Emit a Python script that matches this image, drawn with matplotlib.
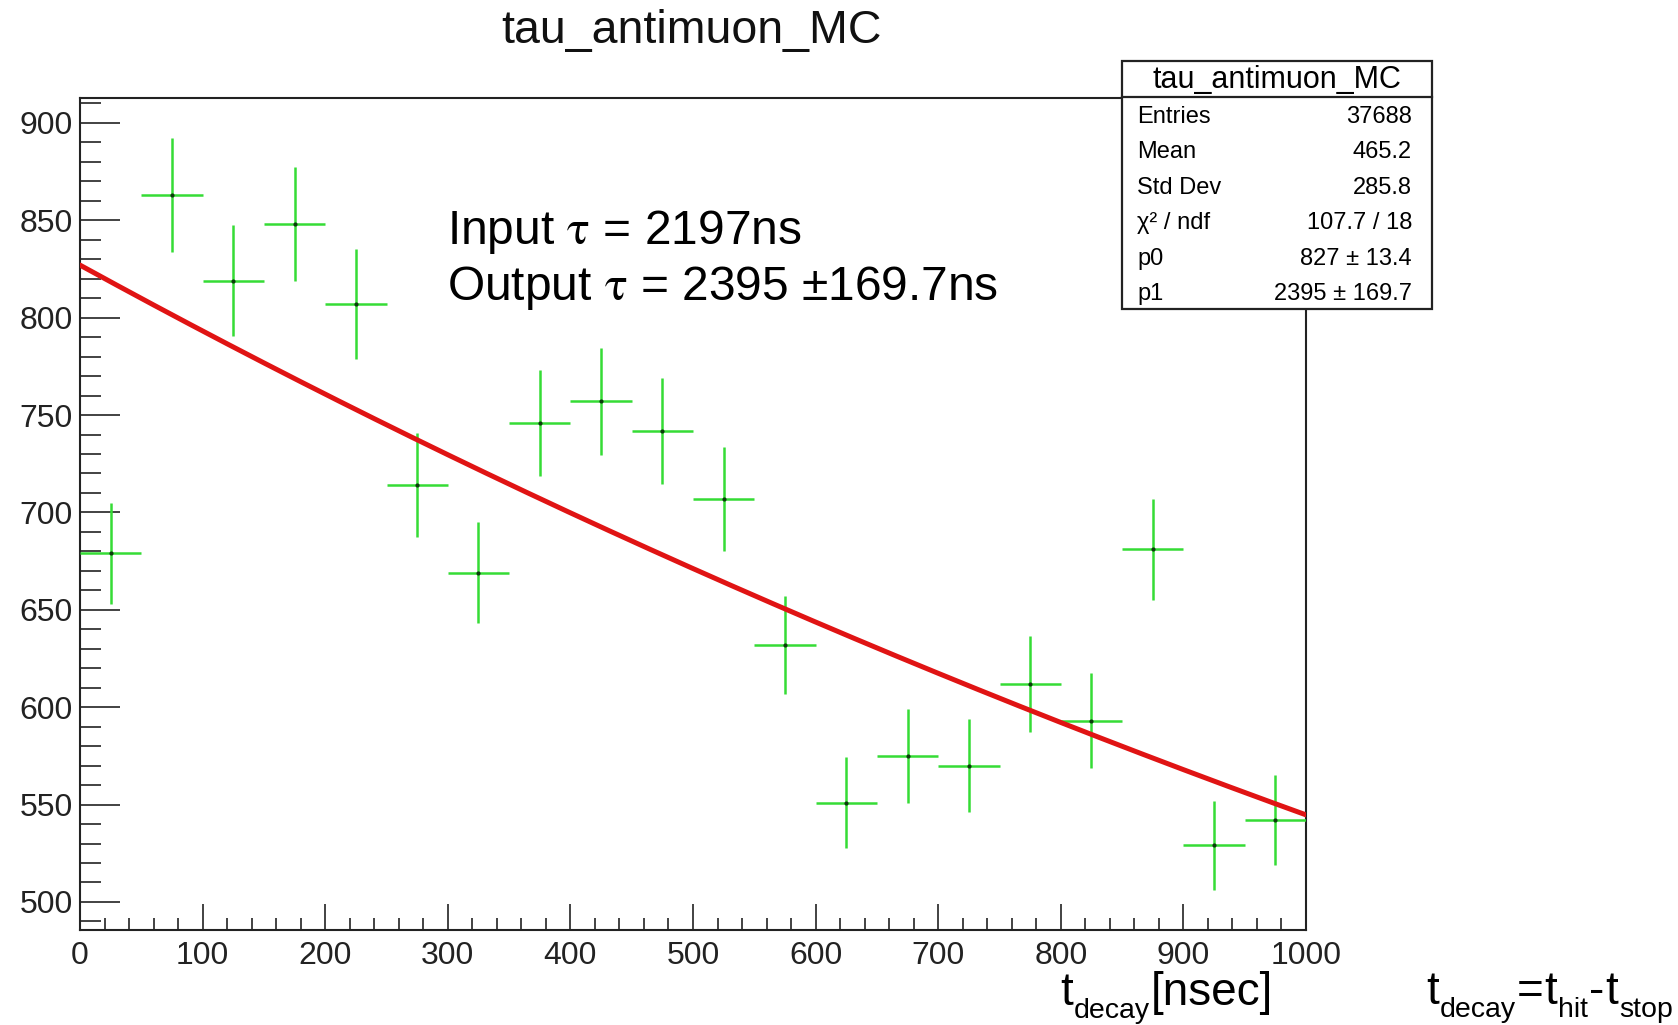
import numpy as np
import matplotlib.pyplot as plt
from matplotlib.patches import Rectangle
from matplotlib.lines import Line2D
from matplotlib.ticker import MultipleLocator

# histograma de t_decay (bins de 50 ns)
centros = [25, 75, 125, 175, 225, 275, 325, 375, 425, 475,
           525, 575, 625, 675, 725, 775, 825, 875, 925, 975]
cuentas = [679, 863, 819, 848, 807, 714, 669, 746, 757, 742,
           707, 632, 551, 575, 570, 612, 593, 681, 529, 542]
ancho_bin = 50

# parametros del ajuste p0*exp(-t/p1)
p0 = 827
p1 = 2395

# caja de estadisticas
stats_nombres = ['Entries', 'Mean', 'Std Dev', 'χ² / ndf', 'p0', 'p1']
stats_valores = ['37688', '465.2', '285.8', '107.7 / 18', '827 ± 13.4', '2395 ± 169.7']

# etiquetas con subindices: (texto, es_subindice)
etiqueta_x = [('t', False), ('decay', True), ('[nsec]', False)]
etiqueta_def = [('t', False), ('decay', True), ('=', False), ('t', False), ('hit', True),
                ('-', False), ('t', False), ('stop', True)]

fuente = ['Liberation Sans', 'DejaVu Sans']
plt.rcParams['font.family'] = fuente

W, H = 1678, 1025
fig = plt.figure(figsize=(W / 100, H / 100), dpi=100)
ax = fig.add_axes([80 / W, 1 - 930 / H, (1306 - 80) / W, (930 - 98) / H])

x = np.array(centros)
y = np.array(cuentas)
ax.errorbar(x, y, xerr=ancho_bin / 2, yerr=np.sqrt(y), fmt='none',
            ecolor='#35dc35', elinewidth=1.8, capsize=0, zorder=3)
ax.plot(x, y, 'o', color='#0a3a0a', markersize=2, zorder=4)

t = np.linspace(0, 1000, 300)
ax.plot(t, p0 * np.exp(-t / p1), color='#e01414', linewidth=3.6,
        solid_capstyle='round', zorder=5)

ax.set_xlim(0, 1000)
ax.set_ylim(485.6, 912.8)
ax.xaxis.set_major_locator(MultipleLocator(100))
ax.xaxis.set_minor_locator(MultipleLocator(20))
ax.yaxis.set_major_locator(MultipleLocator(50))
ax.yaxis.set_minor_locator(MultipleLocator(10))

ax.tick_params(axis='both', which='both', direction='in', top=False, right=False,
               colors='#222222', width=1.2, labelsize=23)
ax.tick_params(axis='y', which='major', length=28.5, pad=5)
ax.tick_params(axis='y', which='minor', length=15)
ax.tick_params(axis='x', which='major', length=18.5, pad=8)
ax.tick_params(axis='x', which='minor', length=8.5)
for s in ax.spines.values():
    s.set_linewidth(1.5)
    s.set_color('#222222')

# titulo
fig.text(692 / W, 1 - 43 / H, 'tau_antimuon_MC', fontsize=33.5, ha='center',
         va='baseline', color='#111111')

# textos de la diapositiva
fig.text(447 / W, 1 - 244 / H, r'Input $\mathrm{\tau}$ = 2197ns', fontsize=34.5,
         va='baseline', math_fontfamily='stix')
fig.text(447 / W, 1 - 300 / H, r'Output $\mathrm{\tau}$ = 2395 ±169.7ns', fontsize=34.5,
         va='baseline', math_fontfamily='stix')


def texto_subindices(x0, base, piezas, size=33, size_sub=20.5, bajada=13):
    # escribe las piezas una tras otra, bajando los subindices (en pixeles)
    renderer = fig.canvas.get_renderer()
    xp = x0
    for txt, sub in piezas:
        if sub:
            tx = fig.text(xp / W, 1 - (base + bajada) / H, txt, fontsize=size_sub, va='baseline')
        else:
            tx = fig.text(xp / W, 1 - base / H, txt, fontsize=size, va='baseline')
        xp += tx.get_window_extent(renderer).width + 1


texto_subindices(1060, 1005, etiqueta_x)
texto_subindices(1426, 1004, etiqueta_def)

# caja de estadisticas tipo ROOT
bx0, bx1, by0, by1, bsep = 1122, 1432, 61, 309, 97
fig.add_artist(Rectangle((bx0 / W, 1 - by1 / H), (bx1 - bx0) / W, (by1 - by0) / H,
                         transform=fig.transFigure, facecolor='white',
                         edgecolor='#222222', linewidth=1.6, zorder=10))
fig.add_artist(Line2D([bx0 / W, bx1 / W], [1 - bsep / H, 1 - bsep / H],
                      transform=fig.transFigure, color='#222222', linewidth=1.6, zorder=11))
fig.text((bx0 + bx1) / 2 / W, 1 - 88 / H, 'tau_antimuon_MC', fontsize=22,
         ha='center', va='baseline', zorder=12)
for i in range(len(stats_nombres)):
    yb = 1 - (123 + i * 35.4) / H
    fig.text(1137 / W, yb, stats_nombres[i], fontsize=17, va='baseline', zorder=12)
    fig.text(1412 / W, yb, stats_valores[i], fontsize=17, ha='right', va='baseline', zorder=12)

fig.savefig('out.png', dpi=100, facecolor='white')
